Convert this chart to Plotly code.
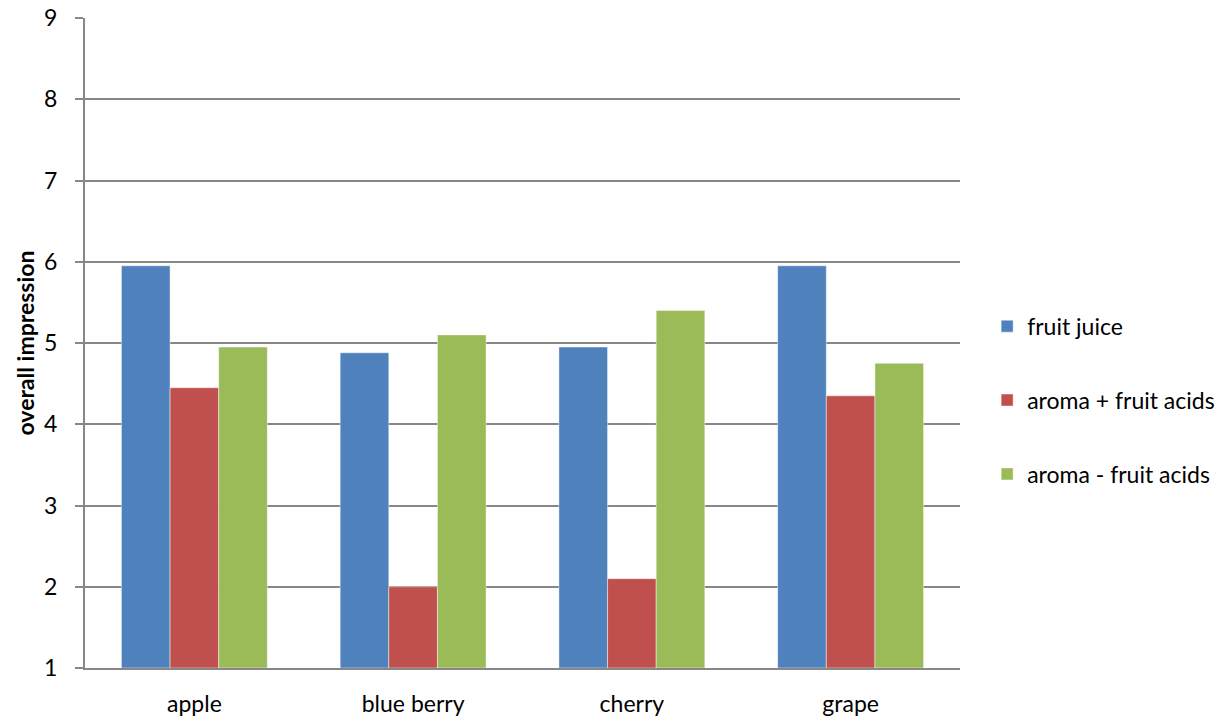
import plotly.graph_objects as go

# Sensory panel scores per fruit flavour
categories = ["apple", "blue berry", "cherry", "grape"]
fruit_juice = [5.95, 4.88, 4.95, 5.95]
aroma_plus_acids = [4.45, 2.0, 2.1, 4.35]
aroma_minus_acids = [4.95, 5.1, 5.4, 4.75]

series = [
    ("fruit juice", fruit_juice, "#4F81BD"),
    ("aroma + fruit acids", aroma_plus_acids, "#C0504D"),
    ("aroma - fruit acids", aroma_minus_acids, "#9BBB59"),
]

FONT = "Lato"
FSIZE = 23
AXIS_GREY = "#878787"

fig = go.Figure()
for i, (name, vals, color) in enumerate(series):
    fig.add_trace(go.Bar(
        x=categories,
        y=[v - 1 for v in vals],
        base=1,
        name=name,
        legendgroup=f"g{i}",
        marker=dict(color=color, line=dict(color="rgba(255,255,255,0.45)", width=1)),
        hovertemplate="%{x}: %{customdata}<extra>" + name + "</extra>",
        customdata=vals,
    ))

fig.update_layout(
    width=1231,
    height=717,
    paper_bgcolor="white",
    plot_bgcolor="white",
    barmode="group",
    bargap=0.333,
    bargroupgap=0,
    margin=dict(l=85, r=271, t=18, b=49, pad=0, autoexpand=False),
    font=dict(family=FONT, size=FSIZE, color="#000000"),
    showlegend=True,
    legend=dict(
        x=1.031, xanchor="left",
        y=0.412, yanchor="middle",
        tracegroupgap=41,
        itemwidth=30,
        font=dict(family=FONT, size=FSIZE, color="#000000"),
        bgcolor="rgba(0,0,0,0)",
    ),
    xaxis=dict(
        automargin=False,
        showgrid=False,
        showline=True,
        linecolor=AXIS_GREY,
        linewidth=2,
        ticks="",
        tickfont=dict(family=FONT, size=FSIZE),
        ticklabelstandoff=14,
        fixedrange=True,
    ),
    yaxis=dict(
        automargin=False,
        range=[1, 9],
        tick0=1,
        dtick=1,
        showgrid=True,
        gridcolor=AXIS_GREY,
        gridwidth=1.5,
        showline=True,
        linecolor=AXIS_GREY,
        linewidth=2,
        ticks="outside",
        ticklen=8,
        tickwidth=1.5,
        tickcolor=AXIS_GREY,
        ticklabelstandoff=13,
        tickfont=dict(family=FONT, size=FSIZE),
        zeroline=False,
        title=dict(
            text="<b>overall impression</b>",
            font=dict(family=FONT, size=FSIZE),
            standoff=3,
        ),
        fixedrange=True,
    ),
)

fig.write_html("out.html")
